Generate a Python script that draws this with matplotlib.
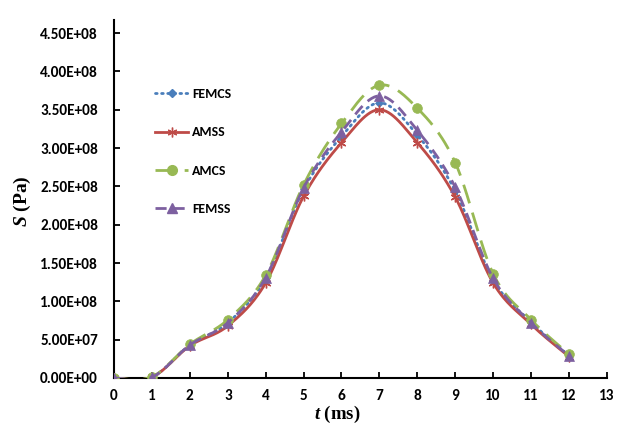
import numpy as np
import matplotlib
matplotlib.use("Agg")
import matplotlib.pyplot as plt
from matplotlib.lines import Line2D

t = [0, 1, 2, 3, 4, 5, 6, 7, 8, 9, 10, 11, 12]
femcs = [0, 1.0e6, 4.3e7, 7.2e7, 1.30e8, 2.46e8, 3.15e8, 3.59e8, 3.17e8, 2.44e8, 1.28e8, 7.3e7, 2.9e7]
amss  = [0, 1.0e6, 4.2e7, 6.8e7, 1.24e8, 2.37e8, 3.07e8, 3.50e8, 3.07e8, 2.36e8, 1.24e8, 7.0e7, 2.8e7]
amcs  = [0, 1.5e6, 4.4e7, 7.6e7, 1.34e8, 2.52e8, 3.32e8, 3.82e8, 3.52e8, 2.81e8, 1.36e8, 7.6e7, 3.1e7]
femss = [0, 1.0e6, 4.3e7, 7.2e7, 1.31e8, 2.48e8, 3.21e8, 3.68e8, 3.23e8, 2.49e8, 1.30e8, 7.2e7, 2.9e7]

names = ["FEMCS", "AMSS", "AMCS", "FEMSS"]
series = [femcs, amss, amcs, femss]
colors = ["#4A7EBB", "#BE4B48", "#98B954", "#7D60A0"]
markers = ["D", (6, 2, 0), "o", "^"]
msizes = [4.5, 7, 7, 7.5]
dashes = [(0.6, 1.6), None, (7, 3.5), (4, 2.5)]
ytick_vals = np.arange(0, 4.51e8, 0.5e8)
ytick_labels = ["0.00E+00", "5.00E+07", "1.00E+08", "1.50E+08", "2.00E+08",
                "2.50E+08", "3.00E+08", "3.50E+08", "4.00E+08", "4.50E+08"]
xticks = list(range(0, 14))


def smooth(x, y, n=30):
    x = np.asarray(x, float); y = np.asarray(y, float)
    px = np.concatenate([[x[0]], x, [x[-1]]])
    py = np.concatenate([[y[0]], y, [y[-1]]])
    xs, ys = [], []
    s = np.linspace(0, 1, n)
    for i in range(1, len(px) - 2):
        p0 = np.array([px[i], py[i]]); p3 = np.array([px[i + 1], py[i + 1]])
        c1 = p0 + (p3 - np.array([px[i - 1], py[i - 1]])) / 6
        c2 = p3 - (np.array([px[i + 2], py[i + 2]]) - p0) / 6
        b = ((1 - s) ** 3)[:, None] * p0 + (3 * (1 - s) ** 2 * s)[:, None] * c1 + \
            (3 * (1 - s) * s ** 2)[:, None] * c2 + (s ** 3)[:, None] * p3
        xs.append(b[:, 0]); ys.append(b[:, 1])
    return np.concatenate(xs), np.concatenate(ys)


plt.rcParams['font.family'] = ['Carlito', 'DejaVu Sans']
plt.rcParams['mathtext.fontset'] = 'custom'
plt.rcParams['mathtext.it'] = 'Liberation Serif:italic:bold'
plt.rcParams['mathtext.rm'] = 'Liberation Serif:bold'
plt.rcParams['mathtext.bf'] = 'Liberation Serif:bold'

fig = plt.figure(figsize=(6.18, 4.24), dpi=100)
ax = fig.add_axes([0.1845, 0.1085, 0.7975, 0.8443])

order = [2, 3, 0, 1]
handles = [None] * 4
for i in order:
    c = colors[i]
    sx, sy = smooth(t, series[i])
    ls = '-' if dashes[i] is None else (0, dashes[i])
    ax.plot(sx, sy, color=c, lw=2.0, linestyle=ls,
            dash_capstyle='round' if i == 0 else 'butt', zorder=2 + i)
    ax.plot(t, series[i], linestyle='none', marker=markers[i], ms=msizes[i],
            color=c, mec=c, mew=1.0 if i == 1 else 0.5, zorder=3 + i)
    handles[i] = Line2D([], [], color=c, lw=2.0, linestyle=ls, marker=markers[i],
                        ms=msizes[i], mec=c, dash_capstyle='round' if i == 0 else 'butt')

ax.set_xlim(0, 13)
ax.set_ylim(0, 4.67e8)
ax.set_xticks(xticks)
ax.set_xticklabels([str(v) for v in xticks])
ax.set_yticks(ytick_vals)
ax.set_yticklabels(ytick_labels)
for sp in ['top', 'right']:
    ax.spines[sp].set_visible(False)
for sp in ['left', 'bottom']:
    ax.spines[sp].set_linewidth(1.5)
ax.tick_params(direction='in', length=4, width=1.3, labelsize=11)
ax.tick_params(axis='y', pad=11.5)
ax.tick_params(axis='x', pad=8)
for lab in ax.get_xticklabels() + ax.get_yticklabels():
    lab.set_fontweight('bold')

fig.text(0.037, 0.526, "$S$ (Pa)", rotation=90, ha='center', va='center',
         fontsize=14, fontweight='bold', family='Liberation Serif')
fig.text(0.545, 0.011, "$t$ (ms)", ha='center', va='baseline',
         fontsize=13.5, fontweight='bold', family='Liberation Serif')

leg = ax.legend(handles, names, loc='upper left', bbox_to_anchor=(0.058, 0.845),
                frameon=False, handlelength=2.4, labelspacing=1.9, handletextpad=0.25,
                prop={'weight': 'bold', 'size': 10, 'family': 'Carlito'})

fig.savefig("out.png", dpi=100)
